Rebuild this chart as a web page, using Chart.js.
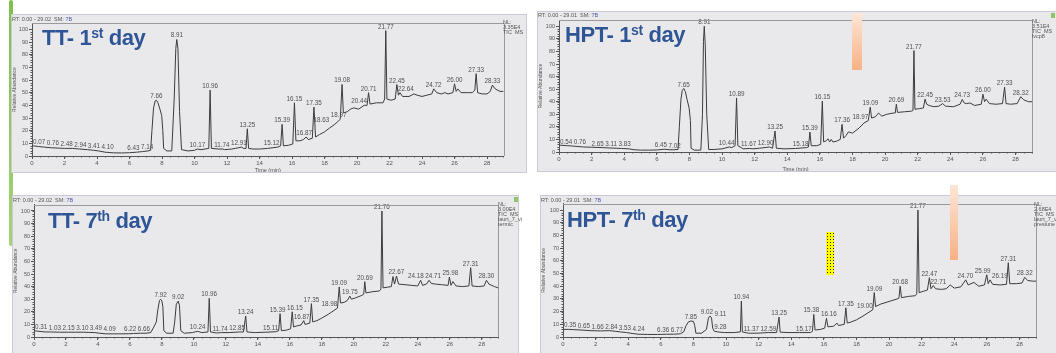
<!DOCTYPE html>
<html><head><meta charset="utf-8">
<script src="https://cdn.jsdelivr.net/npm/chart.js@4.4.0/dist/chart.umd.min.js"></script>
<style>
html,body{margin:0;padding:0;width:1056px;height:353px;overflow:hidden;background:#fff;font-family:"Liberation Sans",Arial,sans-serif;}
.panel{position:absolute;background:#e9e9eb;border:1px solid #c9ccd6;box-sizing:border-box;overflow:hidden;}
.panel canvas{position:absolute;left:0;top:0;}
.hdr{position:absolute;font-size:5.5px;color:#555;white-space:nowrap;}
.hdr b{font-weight:normal;color:#4a5aa8;}
.nl{position:absolute;font-size:5.5px;line-height:5px;color:#555;white-space:pre;}
.ttl{position:absolute;font-weight:bold;font-size:22px;line-height:22px;letter-spacing:-0.4px;color:#2f5597;white-space:nowrap;}
.ttl sup{font-size:14px;vertical-align:7px;line-height:0;}
.gsq{position:absolute;width:4px;height:5px;background:#8fc46b;}
.deco{position:absolute;}
</style></head><body>
<div class="deco" style="left:9px;top:0;width:4px;height:246px;background:linear-gradient(#7fbf4a,#a6d27a);border-radius:2px;"></div>
<script>
// ---------- DATA ----------
const xTickLabels = [0,2,4,6,8,10,12,14,16,18,20,22,24,26,28];
const yTickLabels = [0,10,20,30,40,50,60,70,80,90,100];

// TT - 1st day
const tt1Time = [0,0.07,0.4,0.76,1.2,2.0,2.48,2.94,3.41,3.8,4.10,4.5,5.0,5.5,6.0,6.43,6.8,7.14,7.3,7.38,7.48,7.58,7.66,7.75,7.85,7.98,8.05,8.1,8.3,8.6,8.75,8.85,8.91,8.98,9.08,9.2,9.6,10.0,10.17,10.4,10.88,10.96,11.04,11.5,11.74,11.85,12.3,12.5,12.91,13.0,13.17,13.25,13.33,13.6,14.0,14.5,15.12,15.3,15.39,15.47,15.8,16.05,16.15,16.24,16.5,16.7,16.87,17.0,17.25,17.35,17.45,17.7,18.0,18.3,18.63,18.8,18.97,19.08,19.16,19.4,19.6,19.8,20.1,20.44,20.62,20.71,20.8,21.2,21.6,21.7,21.77,21.84,22.1,22.35,22.45,22.55,22.64,22.8,23.2,23.5,23.7,24.0,24.3,24.6,24.72,24.9,25.2,25.4,25.6,25.9,26.0,26.1,26.2,26.4,26.8,27.1,27.25,27.33,27.42,27.7,28.0,28.2,28.33,28.5,28.8,29.02];
const tt1Abund = [8,8,7.5,7,6.5,6,6,5.5,5,4.5,4,3,2.5,2.4,2.6,3,3.5,4,4.5,20,38,43.5,44,42,38,32,20,6,4,4,45,85,92,85,35,5,4,4.5,5.5,5,6,52,6,5.5,5.5,5,5.5,6,7,6,6,21.5,6,5.5,5.5,6,7,8,25,8,8.5,9.5,42,12,12,13,15,13,14,38.6,15,17,19,22,25,27,29,56.5,34,35,37,38,37,40,40,50,41,42,42,45,99,45,44,45,56.4,48,50,47,47,49,48,47,48,49,53,50,49,50,49,50,57,51,53,50,50,50,52,65,50,49,49,51,56,53,51,51];
const tt1Peaks = [0.07,0.76,2.48,2.94,3.41,4.10,6.43,7.14,7.66,8.91,10.17,10.96,11.74,12.91,13.25,15.12,15.39,16.15,16.87,17.35,18.63,18.97,19.08,20.44,20.71,21.77,22.45,22.64,24.72,26.00,27.33,28.33];

// HPT - 1st day
const hpt1Time = [0,0.54,0.76,1.5,2.0,2.65,3.11,3.5,3.83,4.3,4.6,5.0,5.5,6.0,6.45,6.8,7.02,7.3,7.38,7.48,7.56,7.65,7.75,7.85,7.98,8.06,8.1,8.3,8.7,8.8,8.86,8.91,8.97,9.06,9.18,9.5,10.0,10.44,10.6,10.8,10.89,10.97,11.3,11.67,11.9,12.3,12.90,13.1,13.25,13.33,13.8,14.5,15.18,15.3,15.39,15.47,15.8,16.05,16.15,16.23,16.4,16.5,16.6,16.7,16.8,17.0,17.25,17.36,17.45,17.6,17.75,18.0,18.4,18.7,18.97,19.09,19.17,19.4,19.6,19.8,20.1,20.5,20.62,20.69,20.76,21.2,21.6,21.71,21.77,21.83,22.1,22.35,22.45,22.55,22.7,23.0,23.3,23.53,23.7,24.2,24.6,24.73,24.85,25.0,25.2,25.5,25.9,26.0,26.1,26.2,26.4,26.8,27.2,27.33,27.42,27.7,28.1,28.32,28.5,28.8,29.01];
const hpt1Abund = [5.5,5,4.8,4,3.8,3.5,3.2,3,2.8,2.5,1.8,1.5,1.5,1.6,2.2,1.8,1.8,2,20,42,49,50.5,48,42,35,25,3,1.5,1.5,30,88,100,85,30,2,2,2.5,4,3.5,5,43,5,2.5,2.8,2.5,3,4,3,16.7,3,2.5,2.8,3.5,4,15.9,5,5,6,40.5,8,9,10.5,8,10,8,8.5,10,22,11,13,16,15,19,23,25,35.7,27,28,31,28.5,30,31,31,38,31.5,32,32.5,33,80.7,34,34.5,35,42,38,37,36,36.5,38.5,36.5,36,38,41.8,39,38.5,39,37,38,46,40,42,38.5,38,38.5,51.6,38.5,38,38.5,44,41.5,40,40];
const hpt1Peaks = [0.54,0.76,2.65,3.11,3.83,6.45,7.02,7.65,8.91,10.44,10.89,11.67,12.90,13.25,15.18,15.39,16.15,17.36,18.97,19.09,20.69,21.77,22.45,23.53,24.73,26.00,27.33,28.32];

// TT - 7th day
const tt7Time = [0,0.31,0.7,1.03,1.6,2.15,2.6,3.10,3.49,3.8,4.09,4.5,5.0,5.5,6.0,6.22,6.66,7.0,7.3,7.5,7.65,7.75,7.85,7.92,8.0,8.06,8.12,8.3,8.7,8.8,8.9,9.02,9.1,9.18,9.4,9.9,10.24,10.5,10.88,10.96,11.04,11.4,11.74,12.2,12.85,13.1,13.24,13.32,13.8,14.5,15.11,15.3,15.39,15.47,15.8,16.05,16.15,16.23,16.5,16.7,16.87,16.95,17.25,17.35,17.43,17.7,18.0,18.4,18.7,18.98,19.09,19.17,19.4,19.6,19.75,19.85,20.1,20.5,20.62,20.69,20.76,21.2,21.6,21.7,21.76,21.83,22.1,22.35,22.45,22.55,22.67,22.8,23.2,23.6,24.0,24.18,24.3,24.55,24.71,24.85,25.1,25.5,25.9,25.98,26.08,26.2,26.4,26.8,27.2,27.31,27.4,27.8,28.15,28.30,28.45,28.8,29.02];
const tt7Abund = [5,4.5,4,4,3.8,3.8,3.8,3.8,3.6,3.5,3,2.5,2.5,2.5,2.6,2.8,3,3,3.5,8,12,22,29,30,28.5,24,5,3,3,12,26,28.5,25,5,3,3.5,4.5,3.5,4,30.7,4,3.2,3.5,3.5,4,4,16.7,4,3.5,3.8,4.2,5,18.5,5,5.5,6.5,20,8,9,9.5,13,10,11,26.5,12,13,15,18,20.5,23,39.7,27,27.5,29,32.5,30,31,33,34,43.9,35,36,36.5,38,100,39,39.5,40,48,42,48.4,42,41.5,41,40.5,45,41,42,45,42.5,42,41.5,41,47.6,41,44,40.5,40,40.5,55,40.5,40,40.5,45,42,40,39];
const tt7Peaks = [0.31,1.03,2.15,3.10,3.49,4.09,6.22,6.66,7.92,9.02,10.24,10.96,11.74,12.85,13.24,15.11,15.39,16.15,16.87,17.35,18.98,19.09,19.75,20.69,21.76,22.67,24.18,24.71,25.98,27.31,28.30];

// HPT - 7th day
const hpt7Time = [0,0.35,0.65,1.1,1.66,2.3,2.84,3.2,3.53,3.9,4.24,4.6,5.2,5.8,6.36,6.77,7.2,7.4,7.55,7.7,7.85,8.0,8.08,8.15,8.5,8.8,8.92,9.02,9.11,9.18,9.28,9.5,9.9,10.5,10.88,10.94,11.0,11.37,11.9,12.59,13.1,13.25,13.32,13.8,14.5,15.17,15.3,15.38,15.46,15.8,16.05,16.16,16.25,16.6,16.8,16.9,17.25,17.35,17.43,17.6,18.0,18.4,18.7,19.0,19.09,19.17,19.5,20.0,20.5,20.6,20.68,20.76,21.2,21.6,21.7,21.77,21.84,22.1,22.35,22.47,22.57,22.71,22.85,23.2,23.5,23.75,24.0,24.4,24.70,24.85,25.2,25.5,25.85,25.99,26.08,26.19,26.35,26.8,27.2,27.31,27.4,27.8,28.15,28.32,28.5,28.8,29.01];
const hpt7Abund = [6,6,5.8,5.5,5,4.8,5,4.5,4,3.5,2.8,2.2,2,2,2.2,2.2,2.5,4,9,12,12.6,12.3,9,3,3,6,15,16.5,15,7,4.5,4,3.5,3.5,4,28.3,4,3,3,3.5,3.5,15.7,3.8,3.5,3.5,3.5,4.5,17.8,5.5,6,7,14.7,8,8.5,11,9,10,23,11,11.5,13.5,16.5,19,21.5,35,24,26,28,30,30.5,40,31,32,32.5,34,100,35,36,37,46.7,38,40.5,38,37.5,38,41,38.5,39.5,45,41,43,40,41,49,42,45,41.5,41,41.5,58.5,42,42,42.5,47,44.5,44,44];
const hpt7Peaks = [0.35,0.65,1.66,2.84,3.53,4.24,6.36,6.77,7.85,9.02,9.11,9.28,10.94,11.37,12.59,13.25,15.17,15.38,16.16,17.35,19.00,19.09,20.68,21.77,22.47,22.71,24.70,25.99,26.19,27.31,28.32];

// ---------- PANELS ----------
const panels = [
  {box:[11,14,527,173], plot:[31,22,502.6,155], xmax:29.02, time:tt1Time, abund:tt1Abund, peaks:tt1Peaks,
   hdr:'RT: 0.00 - 29.02&nbsp;&nbsp;SM: <b>7B</b>', hdrPos:[12,16], nl:'NL:\n3.35E4\nTIC  MS', nlPos:[503,20],
   title:'TT- 1<sup>st</sup> day', titlePos:[42,26.5], gsq:null},
  {box:[537,11,1060,172], plot:[558,19,1031,151], xmax:29.01, time:hpt1Time, abund:hpt1Abund, peaks:hpt1Peaks,
   hdr:'RT: 0.00 - 29.01&nbsp;&nbsp;SM: <b>7B</b>', hdrPos:[538,12], nl:'NL:\n3.51E4\nTIC  MS\nlvcp8', nlPos:[1032,19],
   title:'HPT- 1<sup>st</sup> day', titlePos:[565,23.5], gsq:[1051,13]},
  {box:[12,195,519,362], plot:[33,203.7,497,336], xmax:29.02, time:tt7Time, abund:tt7Abund, peaks:tt7Peaks,
   hdr:'RT: 0.00 - 29.02&nbsp;&nbsp;SM: <b>7B</b>', hdrPos:[13,197], nl:'NL:\n3.00E4\nTIC  MS\nlaurt_7_vi\ntermic', nlPos:[498,202],
   title:'TT- 7<sup>th</sup> day', titlePos:[48,209.5], gsq:[514,197]},
  {box:[540,195,1060,362], plot:[562,202.7,1035,336], xmax:29.01, time:hpt7Time, abund:hpt7Abund, peaks:hpt7Peaks,
   hdr:'RT: 0.00 - 29.01&nbsp;&nbsp;SM: <b>7B</b>', hdrPos:[541,197], nl:'NL:\n2.68E4\nTIC  MS\nlaurt_7_v\npresiune', nlPos:[1034,202],
   title:'HPT- 7<sup>th</sup> day', titlePos:[567,208.5], gsq:null}
];

const peakLabelPlugin = {
  id:'peakLabels',
  afterDatasetsDraw(chart, args, opts){
    const ctx = chart.ctx, xs = chart.scales.x, ys = chart.scales.y, a = chart.chartArea;
    const pts = chart.data.datasets[0].data;
    const pix = pts.map(q => [xs.getPixelForValue(q.x), ys.getPixelForValue(q.y)]);
    const traceTop = (x1, x2) => {
      let m = Infinity;
      for (let k = 0; k < pix.length - 1; k++) {
        const [ax, ay] = pix[k], [bx, by] = pix[k + 1];
        if (bx < x1 || ax > x2) continue;
        const cl = x => ay + (by - ay) * (x - ax) / (bx - ax);
        const lo = Math.max(ax, x1), hi = Math.min(bx, x2);
        m = Math.min(m, cl(lo), cl(hi));
      }
      return m;
    };
    ctx.save();
    ctx.font = '6.3px "Liberation Sans", Arial, sans-serif';
    ctx.fillStyle = '#505050';
    ctx.textAlign = 'center';
    ctx.textBaseline = 'alphabetic';
    const items = [];
    opts.peaks.forEach(t => {
      const p = pts.find(q => Math.abs(q.x - t) < 1e-6);
      if (!p) return;
      const txt = t.toFixed(2);
      items.push({txt, cx: xs.getPixelForValue(t), y: ys.getPixelForValue(p.y) - 2, w: ctx.measureText(txt).width});
    });
    items.sort((p, q) => p.cx - q.cx);
    const clear = (o, cx) => traceTop(cx - o.w / 2, cx + o.w / 2) > o.y + 1;
    const avoidTrace = () => items.forEach(o => {
      if (clear(o, o.cx)) return;
      for (let s = 1; s <= 24; s += 0.5) {
        if (clear(o, o.cx - s)) { o.cx -= s; return; }
        if (clear(o, o.cx + s)) { o.cx += s; return; }
      }
    });
    const relax = () => {
      for (let it = 0; it < 60; it++) {
        let moved = false;
        for (let i = 0; i < items.length; i++) {
          for (let j = i + 1; j < items.length; j++) {
            const A = items[i], B = items[j];
            if (Math.abs(A.y - B.y) >= 6) continue;
            const ov = (A.cx + A.w / 2 + 1.5) - (B.cx - B.w / 2);
            if (ov > 0.05) { A.cx -= ov / 2; B.cx += ov / 2; moved = true; }
          }
          const L = a.left + items[i].w / 2 + 1;
          if (items[i].cx < L) items[i].cx = L;
        }
        if (!moved) break;
      }
    };
    avoidTrace();
    relax();
    items.forEach(o => ctx.fillText(o.txt, o.cx, o.y));
    ctx.restore();
  }
};
const framePlugin = {
  id:'frame',
  afterDraw(chart){
    const ctx = chart.ctx, a = chart.chartArea, xs = chart.scales.x, ys = chart.scales.y;
    ctx.save();
    ctx.strokeStyle = '#9a9a9a'; ctx.lineWidth = 1;
    ctx.beginPath();
    ctx.moveTo(a.left, Math.round(a.top)+0.5); ctx.lineTo(Math.round(a.right)+0.5, Math.round(a.top)+0.5);
    ctx.lineTo(Math.round(a.right)+0.5, a.bottom);
    ctx.stroke();
    ctx.strokeStyle = '#555';
    ctx.beginPath();
    for (let v = 0; v <= xs.max; v += 0.5) {
      const px = Math.round(xs.getPixelForValue(v)) + 0.5;
      ctx.moveTo(px, a.bottom); ctx.lineTo(px, a.bottom + 1.5);
    }
    for (let v = 0; v <= 100; v += 2) {
      const py = Math.round(ys.getPixelForValue(v)) + 0.5;
      ctx.moveTo(a.left, py); ctx.lineTo(a.left - 1.5, py);
    }
    ctx.stroke();
    ctx.restore();
  }
};

panels.forEach((P, i) => {
  const [bl, bt, br, bb] = P.box, [pl, pt, pr, pb] = P.plot;
  const W = br - bl, H = bb - bt;
  const div = document.createElement('div');
  div.className = 'panel';
  div.style.cssText = `left:${bl}px;top:${bt}px;width:${W}px;height:${H}px;`;
  document.body.appendChild(div);
  const cv = document.createElement('canvas');
  cv.width = W; cv.height = H;
  cv.style.width = W + 'px'; cv.style.height = H + 'px';
  div.appendChild(cv);

  const hdr = document.createElement('div');
  hdr.className = 'hdr'; hdr.innerHTML = P.hdr;
  hdr.style.left = P.hdrPos[0] + 'px'; hdr.style.top = P.hdrPos[1] + 'px';
  document.body.appendChild(hdr);
  const nl = document.createElement('div');
  nl.className = 'nl'; nl.textContent = P.nl;
  nl.style.left = P.nlPos[0] + 'px'; nl.style.top = P.nlPos[1] + 'px';
  document.body.appendChild(nl);
  const tt = document.createElement('div');
  tt.className = 'ttl'; tt.innerHTML = P.title;
  tt.style.left = P.titlePos[0] + 'px'; tt.style.top = P.titlePos[1] + 'px';
  document.body.appendChild(tt);
  if (P.gsq) {
    const g = document.createElement('div');
    g.className = 'gsq'; g.style.left = P.gsq[0] + 'px'; g.style.top = P.gsq[1] + 'px';
    document.body.appendChild(g);
  }

  const yW = pl - bl, xH = bb - pb;
  const ymax = 105;
  new Chart(cv, {
    type:'line',
    data:{datasets:[{data:P.time.map((t,k)=>({x:t,y:P.abund[k]})), borderColor:'#3c3c3c', borderWidth:1, pointRadius:0, tension:0, fill:false}]},
    options:{
      responsive:false, animation:false, devicePixelRatio:1,
      layout:{padding:{left:0, top:pt - bt, right:br - pr, bottom:0}},
      plugins:{legend:{display:false}, tooltip:{enabled:false}, peakLabels:{peaks:P.peaks}},
      scales:{
        x:{type:'linear', min:0, max:P.xmax,
           afterBuildTicks:s=>{s.ticks = xTickLabels.map(v=>({value:v}));},
           afterFit:s=>{s.height = xH;},
           ticks:{font:{size:6, family:'"Liberation Sans", Arial'}, color:'#555', padding:1, maxRotation:0, autoSkip:false},
           grid:{drawOnChartArea:false, drawTicks:true, tickLength:3, color:'#555'},
           border:{display:true, color:'#555'},
           title:{display:true, text:'Time (min)', font:{size:5.5, family:'"Liberation Sans", Arial'}, color:'#555', padding:{top:0,bottom:0}}},
        y:{min:0, max:ymax,
           afterBuildTicks:s=>{s.ticks = yTickLabels.map(v=>({value:v}));},
           afterFit:s=>{s.width = yW;},
           ticks:{font:{size:5.5, family:'"Liberation Sans", Arial'}, color:'#555', padding:1, autoSkip:false},
           grid:{drawOnChartArea:false, drawTicks:true, tickLength:3, color:'#555'},
           border:{display:true, color:'#555'},
           title:{display:true, text:'Relative Abundance', font:{size:5, family:'"Liberation Sans", Arial'}, color:'#555', padding:{top:0,bottom:1}}}
      }
    },
    plugins:[peakLabelPlugin, framePlugin]
  });
});
</script>
<div class="deco" style="left:852px;top:13px;width:10px;height:57px;background:linear-gradient(#fde6d6,#f8b183);"></div>
<div class="deco" style="left:950px;top:185px;width:8px;height:75px;background:linear-gradient(#fde6d6,#f8b183);"></div>
<div class="deco" style="left:826px;top:232px;width:8px;height:43px;background-color:#ffff00;background-image:radial-gradient(#222 0.7px,transparent 0.9px);background-size:3px 3px;"></div>
</body></html>
